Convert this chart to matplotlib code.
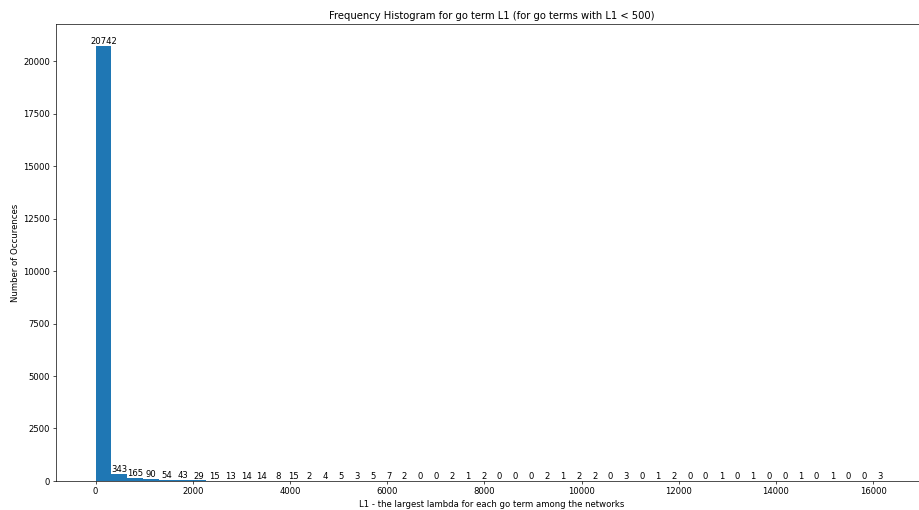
import numpy as np
import matplotlib.pyplot as plt

# counts per bin
counts = [20742, 343, 165, 90, 54, 43, 29, 15, 13, 14,
          14, 8, 15, 2, 4, 5, 3, 5, 7, 2,
          0, 0, 2, 1, 2, 0, 0, 0, 2, 1,
          2, 2, 0, 3, 0, 1, 2, 0, 0, 1,
          0, 1, 0, 0, 1, 0, 1, 0, 0, 3]
l1_min = 0
l1_max = 16300
n_bins = 50

bin_edges = np.linspace(l1_min, l1_max, n_bins + 1)

# original figure was bigger and shrunk down, so render at a low dpi
dpi = 61.3
fig = plt.figure(figsize=(919.2 / dpi, 510.2 / dpi), dpi=dpi)
ax = fig.add_axes([0.0609, 0.0569, 0.948, 0.896])

n, bins, patches = ax.hist(bin_edges[:-1], bins=bin_edges, weights=counts)
ax.bar_label(patches, labels=[str(c) for c in counts])

ax.set_title('Frequency Histogram for go term L1 (for go terms with L1 < 500)', fontsize=11.8)
ax.set_xlabel('L1 - the largest lambda for each go term among the networks')
ax.set_ylabel('Number of Occurences')

fig.savefig('out.png', dpi=dpi)
